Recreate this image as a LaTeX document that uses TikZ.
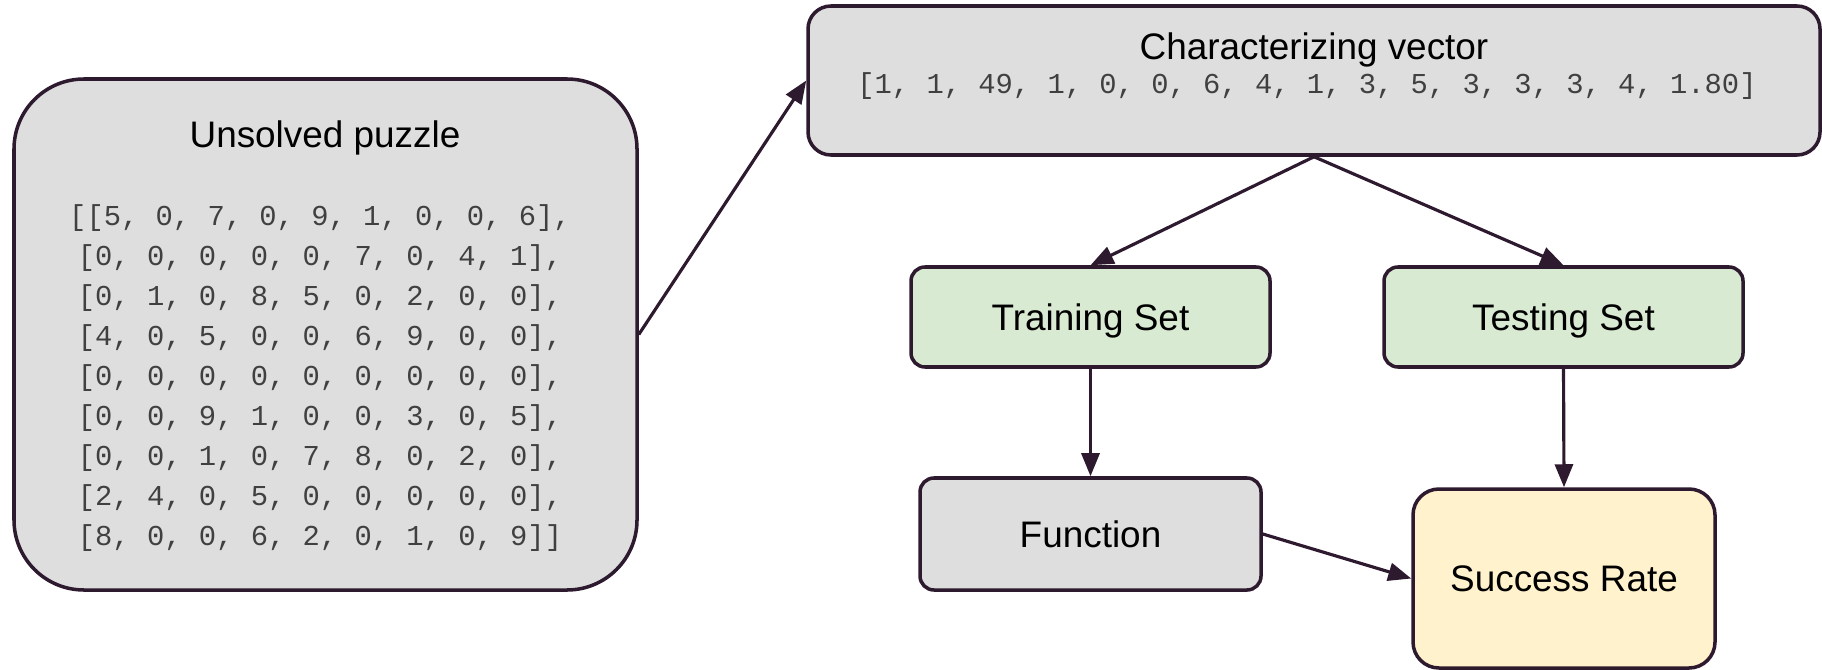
\documentclass[tikz,border=0pt]{standalone}
\usepackage{fontspec}
\setmainfont{Liberation Sans}
\setmonofont{Liberation Mono}
\usepackage{tikz}
\usetikzlibrary{arrows.meta}
\usepackage{xcolor}

\definecolor{edgecol}{RGB}{46,26,46}
\definecolor{boxgray}{RGB}{222,222,222}
\definecolor{boxgreen}{RGB}{217,234,211}
\definecolor{boxyellow}{RGB}{255,242,204}

\begin{document}
\begin{tikzpicture}[
  box/.style={draw=edgecol, line width=1pt, inner sep=0pt, align=center, text depth=0pt,
              font=\fontsize{10.5}{12.6}\selectfont},
  codetext/.style={align=center, text=black!75, font=\ttfamily\fontsize{8.2}{11.4}\selectfont},
  conn/.style={-{Triangle[length=2.3mm,width=1.8mm]}, draw=edgecol, line width=0.9pt}
]
\useasboundingbox (0,0) rectangle (18.22,6.69);

% -------------------------
% Unsolved puzzle
% -------------------------
\node[box, fill=boxgray, rounded corners=7mm, minimum width=6.23cm, minimum height=5.11cm]
  (puzzle) at (3.255,3.345) {};
\node[font=\fontsize{10.5}{12.6}\selectfont] (puzzleTitle) at (3.25,5.315) {Unsolved puzzle};
\node[codetext] (grid) at (3.2,2.91) {%
{[[}5, 0, 7, 0, 9, 1, 0, 0, 6],\\
{[}0, 0, 0, 0, 0, 7, 0, 4, 1],\\
{[}0, 1, 0, 8, 5, 0, 2, 0, 0],\\
{[}4, 0, 5, 0, 0, 6, 9, 0, 0],\\
{[}0, 0, 0, 0, 0, 0, 0, 0, 0],\\
{[}0, 0, 9, 1, 0, 0, 3, 0, 5],\\
{[}0, 0, 1, 0, 7, 8, 0, 2, 0],\\
{[}2, 4, 0, 5, 0, 0, 0, 0, 0],\\
{[}8, 0, 0, 6, 2, 0, 1, 0, 9]]};

% -------------------------
% Characterizing vector
% -------------------------
\node[box, fill=boxgray, rounded corners=2.3mm, minimum width=10.12cm, minimum height=1.49cm]
  (vector) at (13.14,5.885) {};
\node[font=\fontsize{10.5}{12.6}\selectfont] (vectorTitle) at (13.14,6.195) {Characterizing vector};
\node[codetext] (vectorValues) at (13.07,5.83) {[1, 1, 49, 1, 0, 0, 6, 4, 1, 3, 5, 3, 3, 3, 4, 1.80]};

% -------------------------
% Sets, function, rate
% -------------------------
\node[box, fill=boxgreen, rounded corners=1.4mm, minimum width=3.59cm, minimum height=1.0cm]
  (train) at (10.905,3.52) {Training Set};
\node[box, fill=boxgreen, rounded corners=1.4mm, minimum width=3.59cm, minimum height=1.0cm]
  (test) at (15.635,3.52) {Testing Set};
\node[box, fill=boxgray, rounded corners=1.4mm, minimum width=3.41cm, minimum height=1.12cm]
  (func) at (10.905,1.35) {Function};
\node[box, fill=boxyellow, rounded corners=2.6mm, minimum width=3.02cm, minimum height=1.79cm]
  (rate) at (15.64,0.905) {Success Rate};

% -------------------------
% Arrows
% -------------------------
\draw[conn] (puzzle.east) -- (vector.west);
\draw[conn] (vector.south) -- (train.north);
\draw[conn] (vector.south) -- (test.north);
\draw[conn] (train.south) -- (func.north);
\draw[conn] (test.south) -- (rate.north);
\draw[conn] (func.east) -- (rate.west);

\end{tikzpicture}
\end{document}
